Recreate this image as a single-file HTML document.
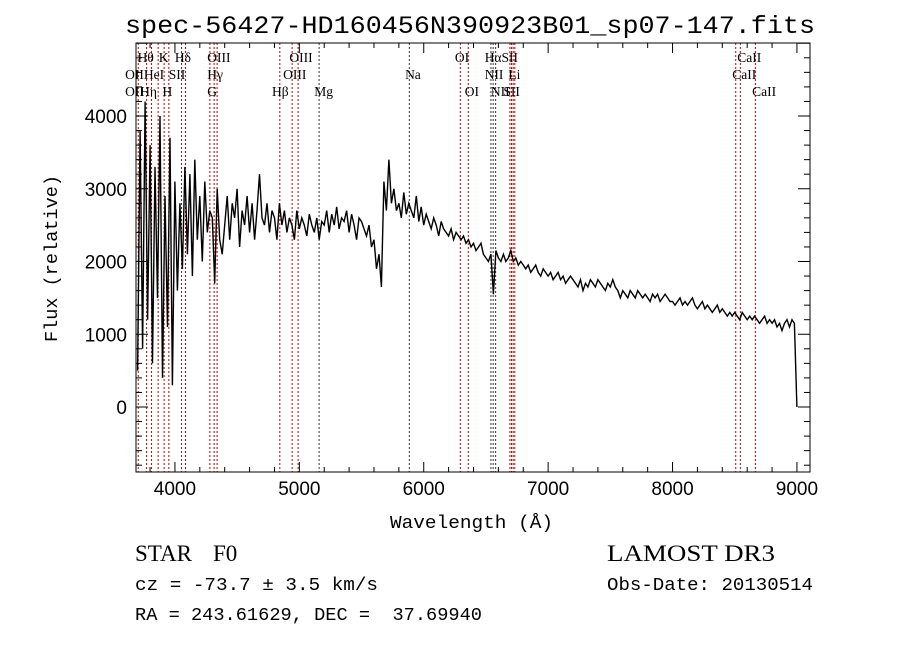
<!DOCTYPE html>
<html><head><meta charset="utf-8"><style>
body{margin:0;background:#fff;width:900px;height:649px;overflow:hidden}
svg{display:block}
.s{font-family:"Liberation Serif",serif}
.m{font-family:"Liberation Mono",monospace}
</style></head><body>
<svg id="c" width="900" height="649" xmlns="http://www.w3.org/2000/svg">
<text class="m" x="125" y="33" font-size="25" textLength="690" lengthAdjust="spacingAndGlyphs">spec-56427-HD160456N390923B01_sp07-147.fits</text>
<g id="lines"></g>
<g id="lbls" class="s" font-size="13.5"></g>
<polyline id="spec" fill="none" stroke="#000" stroke-width="1.4"/>
<rect x="136" y="43" width="674" height="429" fill="none" stroke="#000" stroke-width="1"/>
<g id="ticks" stroke="#000" stroke-width="1"></g>
<g id="tl" font-family="Liberation Sans,sans-serif" font-size="19"></g>
<text class="m" x="390" y="528" font-size="18" textLength="163" lengthAdjust="spacingAndGlyphs">Wavelength (Å)</text>
<text class="m" x="57" y="342" font-size="18" textLength="167" lengthAdjust="spacingAndGlyphs" transform="rotate(-90 57 342)">Flux (relative)</text>
<text class="s" x="135" y="561" font-size="23">STAR</text>
<text class="s" x="213" y="561" font-size="23">F0</text>
<text class="s" x="607" y="561" font-size="23" textLength="168" lengthAdjust="spacingAndGlyphs">LAMOST DR3</text>
<text class="m" x="135" y="590" font-size="18" textLength="243" lengthAdjust="spacingAndGlyphs">cz = -73.7 ± 3.5 km/s</text>
<text class="m" x="607" y="590" font-size="18" textLength="206" lengthAdjust="spacingAndGlyphs">Obs-Date: 20130514</text>
<text class="m" x="135" y="620" font-size="18" textLength="347" lengthAdjust="spacingAndGlyphs" xml:space="preserve">RA = 243.61629, DEC =  37.69940</text>
</svg>
<script>
const startWl = 3700;
const stepWl = 20;
const flux = [500,3800,800,4200,1200,3600,600,3300,1500,4000,400,2900,1100,3700,300,
3100,1600,2800,1900,3300,2100,3200,1800,3400,2300,2900,2000,3100,2400,2700,2600,1700,3000,2300,2100,
2500,2900,2300,2800,2600,3000,2200,2700,2500,2900,2400,2800,2300,2700,3200,2600,2500,2800,2400,2700,
2600,2300,2800,2500,2700,2400,2600,2500,2300,2700,2450,2600,2500,2350,2650,2500,2400,2600,2300,2550,
2500,2700,2400,2650,2500,2750,2450,2600,2550,2700,2400,2650,2500,2300,2600,2550,2450,2350,2500,2200,
2300,1900,2100,1650,3100,2700,3400,2800,3000,2700,2800,2600,2950,2650,2800,2700,2600,2900,2550,2750,
2500,2650,2550,2450,2600,2500,2350,2550,2450,2400,2350,2450,2300,2400,2350,2300,2350,2250,2300,2200,
2250,2150,2200,2250,2100,2050,2000,2100,1550,2150,2050,2000,2100,2000,2050,2150,2000,2050,1950,2000,
1950,1900,1950,1850,1900,1950,1850,1800,1900,1850,1800,1850,1750,1800,1850,1750,1800,1700,1750,1800,
1750,1700,1650,1750,1600,1700,1650,1750,1700,1650,1750,1700,1650,1600,1700,1650,1750,1650,1600,1500,
1600,1550,1500,1600,1550,1500,1600,1550,1500,1550,1500,1450,1550,1500,1550,1450,1500,1550,1500,1450,
1450,1400,1450,1500,1400,1450,1400,1450,1500,1400,1350,1400,1450,1350,1400,1350,1300,1350,1400,1300,
1350,1300,1250,1300,1250,1300,1250,1200,1300,1250,1200,1250,1200,1250,1200,1150,1200,1250,1150,1200,
1150,1200,1100,1150,1050,1150,1200,1100,1200,1150,0];
const markerWl = [3705,3772,3812,3865,3913,3951,4053,4085,4281,4315,4339,4843,4942,4990,5159,5884,6294,6358,6540,6558,6578,6693,6706,6719,6732,8508,8545,8666];
const markerBlack = [4053,5159,5884,6540,6558,6578];
const xTicks = [4000,5000,6000,7000,8000,9000];
const yTicks = [0,1000,2000,3000,4000];
const labelText = ["Hθ","K","Hδ","OIII","OIII","OI","HαSII","CaII","OII","HeI","SII","Hγ","OIII","Na","NII","Li","CaII","OII","Hη","H","G","Hβ","Mg","OI","NII","SII","CaII"];
const labelWl = [3700,3870,4000,4260,4920,6250,6490,8520,3600,3750,3950,4260,4870,5850,6490,6680,8480,3600,3720,3900,4260,4780,5120,6330,6540,6640,8640];
const labelRow = [0,0,0,0,0,0,0,0,1,1,1,1,1,1,1,1,1,2,2,2,2,2,2,2,2,2,2];

const X0=136,X1=810,Y0=43,Y1=472;
const xs = w => X0 + (w-3687)*0.1244;
const ys = v => 407 - v*0.07275;
const NS="http://www.w3.org/2000/svg";
function mk(t,p,a){const e=document.createElementNS(NS,t);for(const k in a)e.setAttribute(k,a[k]);p.appendChild(e);return e;}

document.getElementById('spec').setAttribute('points', flux.map((v,i)=>{const w=i===flux.length-1?9000:startWl+i*stepWl;return xs(w).toFixed(1)+','+ys(v).toFixed(1);}).join(' '));

const lg=document.getElementById('lines');
markerWl.forEach(w=>{
  const l=mk('line',lg,{x1:xs(w),x2:xs(w),y1:Y0,y2:Y1,stroke:markerBlack.includes(w)?'#333':'#c00000','stroke-width':1,'stroke-dasharray':'2,2'});
  
  
});
const lb=document.getElementById('lbls');
labelText.forEach((t,i)=>{
  const e=mk('text',lb,{x:xs(labelWl[i]),y:62+labelRow[i]*17});
  e.textContent=t;
  
  
});
const tg=document.getElementById('ticks'), tl=document.getElementById('tl');
for(let w=3800;w<=9100;w+=200){const x=xs(w);const maj=w%1000===0;
  mk('line',tg,{x1:x,x2:x,y1:Y1,y2:Y1-(maj?10:5)});mk('line',tg,{x1:x,x2:x,y1:Y0,y2:Y0+(maj?10:5)});}
for(let v=-800;v<=5000;v+=200){const y=ys(v);const maj=v%1000===0;
  mk('line',tg,{x1:X0,x2:X0+(maj?12:6),y1:y,y2:y});mk('line',tg,{x1:X1,x2:X1-(maj?12:6),y1:y,y2:y});}
xTicks.forEach(w=>{const e=mk('text',tl,{x:xs(w),y:Y1+23,'text-anchor':'middle'});e.textContent=w;
  
  });
yTicks.forEach(v=>{const e=mk('text',tl,{x:127,y:ys(v)+7,'text-anchor':'end'});e.textContent=v;
  
  });
</script>
</body></html>
